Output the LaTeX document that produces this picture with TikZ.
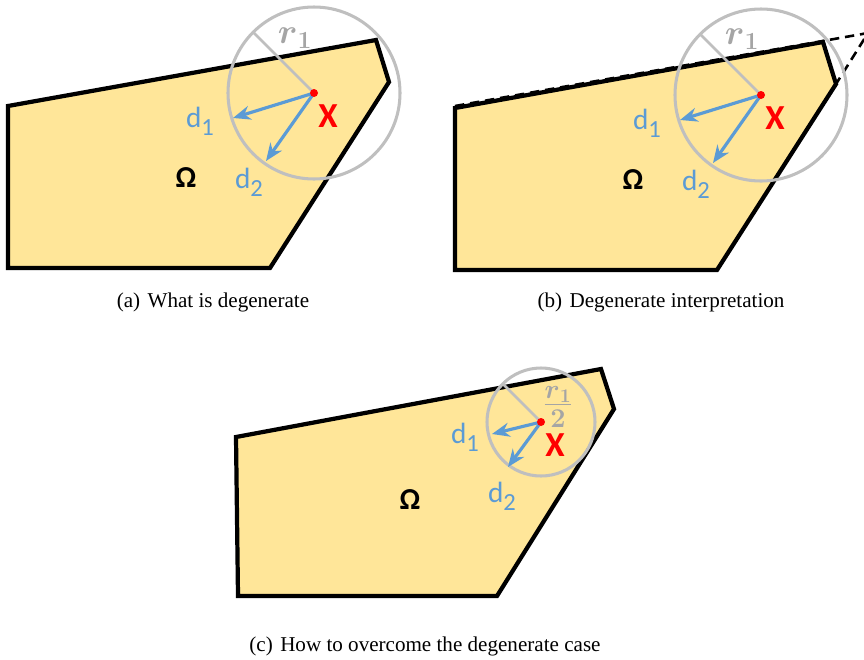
\documentclass[tikz,border=0pt]{standalone}
\usepackage{fix-cm}
\usepackage{amsmath}
\usepackage{xcolor}
\usepackage{fontspec}
\setmainfont{Liberation Serif}
\newfontfamily\calibrifont{Carlito}
\usetikzlibrary{arrows.meta, positioning, calc}
\definecolor{regionfill}{HTML}{FFE699}
\definecolor{ballgray}{HTML}{BFBFBF}
\definecolor{radgray}{HTML}{A5A5A5}
\definecolor{dirblue}{HTML}{5B9BD5}
\newcommand{\dirlabel}[1]{d\raisebox{-7pt}{\fontsize{21}{21}\selectfont #1}}
\newcommand{\radsym}{\boldsymbol{r}_{\boldsymbol{1}}}

\begin{document}
\begin{tikzpicture}[
            x=0.03cm, y=-0.03cm,
            omegaregion/.style={fill=regionfill, draw=black, line width=3.6pt, line join=miter},
            ball/.style={draw=ballgray, line width=2.6pt},
            radline/.style={draw=ballgray, line width=2.4pt},
            arrow/.style={-{Stealth[length=15pt, width=12pt]}, draw=dirblue, line width=2.7pt},
            extension/.style={dash pattern=on 8pt off 5pt, line width=2.2pt},
            dirtext/.style={text=dirblue, font=\calibrifont\fontsize{25}{25}\selectfont, inner sep=0pt},
            pointtext/.style={text=red, font=\calibrifont\bfseries\fontsize{30}{30}\selectfont, inner sep=0pt},
            omegatext/.style={font=\calibrifont\bfseries\fontsize{26}{26}\selectfont, inner sep=0pt},
            radtext/.style={text=radgray, font=\fontsize{30}{30}\selectfont, inner sep=0pt},
            captext/.style={font=\fontsize{18}{18}\selectfont, inner sep=0pt}
        ]
            \useasboundingbox (0,0) rectangle (864,659);
            \clip (0,0) rectangle (864,659);

% (a) What is degenerate
            \draw[omegaregion] (8,106) -- (376,40) -- (389,82) -- (270,268) -- (8,268) -- cycle;
            \coordinate (xA) at (314,93);
            \coordinate (rA) at (253,32);
            \coordinate (dA1) at (233,118);
            \coordinate (dA2) at (266,161);
            \draw[ball] (xA) circle[radius=86];
            \draw[radline] (xA) -- (rA);
            \draw[arrow] (xA) -- (dA1);
            \draw[arrow] (xA) -- (dA2);
            \fill[red] (xA) circle[radius=4];
            \node[dirtext] (lblA1) at (200,121) {\dirlabel{1}};
            \node[dirtext] (lblA2) at (249,182) {\dirlabel{2}};
            \node[pointtext] (ptA) at (328,116) {X};
            \node[omegatext] (omA) at (186,178) {Ω};
            \node[radtext] (radA) at (295,38) {$\radsym$};

% (b) Degenerate interpretation
            \begin{scope}[shift={(447,2)}]
            \draw[omegaregion] (8,106) -- (376,40) -- (389,82) -- (270,268) -- (8,268) -- cycle;
            \coordinate (cornerB) at (421,31);
            \coordinate (tlB) at (8,104);
            \coordinate (rvB) at (389,82);
            \draw[extension] (tlB) -- (cornerB) -- (rvB);
            \coordinate (xB) at (314,93);
            \coordinate (rB) at (253,32);
            \coordinate (dB1) at (233,118);
            \coordinate (dB2) at (266,161);
            \draw[ball] (xB) circle[radius=86];
            \draw[radline] (xB) -- (rB);
            \draw[arrow] (xB) -- (dB1);
            \draw[arrow] (xB) -- (dB2);
            \fill[red] (xB) circle[radius=4];
            \node[dirtext] (lblB1) at (200,121) {\dirlabel{1}};
            \node[dirtext] (lblB2) at (249,182) {\dirlabel{2}};
            \node[pointtext] (ptB) at (328,116) {X};
            \node[omegatext] (omB) at (186,178) {Ω};
            \node[radtext] (radB) at (295,37) {$\radsym$};
            \end{scope}

% (c) How to overcome the degenerate case
            \begin{scope}[shift={(227,329)}]
            \draw[omegaregion] (9,108) -- (374,40) -- (387,80) -- (270,267) -- (11,267) -- cycle;
            \coordinate (xC) at (314,93);
            \coordinate (rC) at (276,55);
            \coordinate (dC1) at (265,105);
            \coordinate (dC2) at (281,138);
            \draw[ball] (xC) circle[radius=54];
            \draw[radline] (xC) -- (rC);
            \draw[arrow] (xC) -- (dC1);
            \draw[arrow] (xC) -- (dC2);
            \fill[red] (xC) circle[radius=4];
            \node[dirtext] (lblC1) at (238,108) {\dirlabel{1}};
            \node[dirtext] (lblC2) at (275,167) {\dirlabel{2}};
            \node[pointtext] (ptC) at (328,116) {X};
            \node[omegatext] (omC) at (183,171) {Ω};
            \node[radtext, font=\fontsize{33}{33}\selectfont] (radC) at (331,78) {$\frac{\radsym}{\boldsymbol{2}}$};
            \end{scope}

% Captions
            \node[captext] (capA) at (213,302) {(a)\hspace{0.35em}What is degenerate};
            \node[captext] (capB) at (661,302) {(b)\hspace{0.35em}Degenerate interpretation};
            \node[captext] (capC) at (425,646) {(c)\hspace{0.35em}How to overcome the degenerate case};

        \end{tikzpicture}
\end{document}
